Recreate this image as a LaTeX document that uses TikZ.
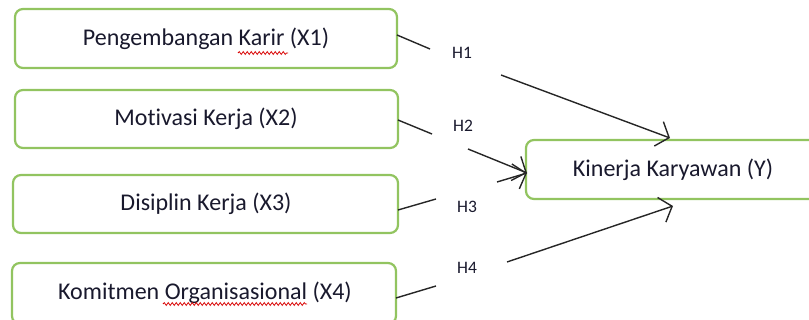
\documentclass[tikz,border=0pt]{standalone}
\usepackage{fontspec}
\setmainfont{Carlito}[Ligatures=CommonOff]
\usetikzlibrary{arrows.meta,decorations.pathmorphing}
\definecolor{boxgreen}{RGB}{146,196,96}
\definecolor{txt}{RGB}{25,25,45}
\tikzset{
  varbox/.style={draw=boxgreen,line width=2.2pt,rounded corners=8pt,fill=white},
  boxtext/.style={text=txt,font=\fontsize{24}{28}\selectfont,inner sep=0pt},
  hlabel/.style={text=txt,font=\fontsize{17.5}{20}\selectfont,inner sep=0pt},
  link/.style={line width=1.4pt,black!85},
  arr/.style={link,-{Straight Barb[length=11pt,width=26pt,line width=1.4pt]}},
  squiggle/.style={red!85!black,line width=0.8pt,decorate,decoration={snake,amplitude=1.4pt,segment length=4pt}}
}
\begin{document}
\begin{tikzpicture}[x=1pt,y=-1pt]
\useasboundingbox (0,0) rectangle (809,320);
\clip (0,0) rectangle (809,320);
% boxes
\draw[varbox] (15,9) rectangle (397,68);
\draw[varbox] (15,90) rectangle (398,148);
\draw[varbox] (13,175) rectangle (398,233);
\draw[varbox] (12,263) rectangle (396,324);
\draw[varbox] (526,140) rectangle (830,199);
% texts
\node[boxtext] (x1) at (206,38.5) {Pengembangan Karir (X1)};
\node[boxtext] (x2) at (206,119) {Motivasi Kerja (X2)};
\node[boxtext] (x3) at (206,204) {Disiplin Kerja (X3)};
\node[boxtext] (x4) at (205,293) {Komitmen Organisasional (X4)};
\node[boxtext] (y) at (673,169.5) {Kinerja Karyawan (Y)};
% spell-check squiggles
\draw[squiggle] (238,53) -- (288,53);
\draw[squiggle] (163,304) -- (307,304);
% hypothesis labels
\node[hlabel] (h1) at (462,53) {H1};
\node[hlabel] (h2) at (463,126) {H2};
\node[hlabel] (h3) at (467,207) {H3};
\node[hlabel] (h4) at (467,268) {H4};
% connector points
\coordinate (a1) at (397,35);  \coordinate (b1) at (430,49);
\coordinate (c1) at (501,75);  \coordinate (d1) at (670,138);
\coordinate (a2) at (398,120); \coordinate (b2) at (432,134);
\coordinate (c2) at (468,149); \coordinate (d2) at (527,173);
\coordinate (a3) at (398,210); \coordinate (b3) at (436,199);
\coordinate (c3) at (497,182); \coordinate (d3) at (527,173);
\coordinate (a4) at (396,298); \coordinate (b4) at (436,286);
\coordinate (c4) at (507,262); \coordinate (d4) at (673,206);
\draw[link] (a1) -- (b1);
\draw[arr] (c1) -- (d1);
\draw[link] (a2) -- (b2);
\draw[arr] (c2) -- (d2);
\draw[link] (a3) -- (b3);
\draw[arr] (c3) -- (d3);
\draw[link] (a4) -- (b4);
\draw[arr] (c4) -- (d4);
\end{tikzpicture}
\end{document}
